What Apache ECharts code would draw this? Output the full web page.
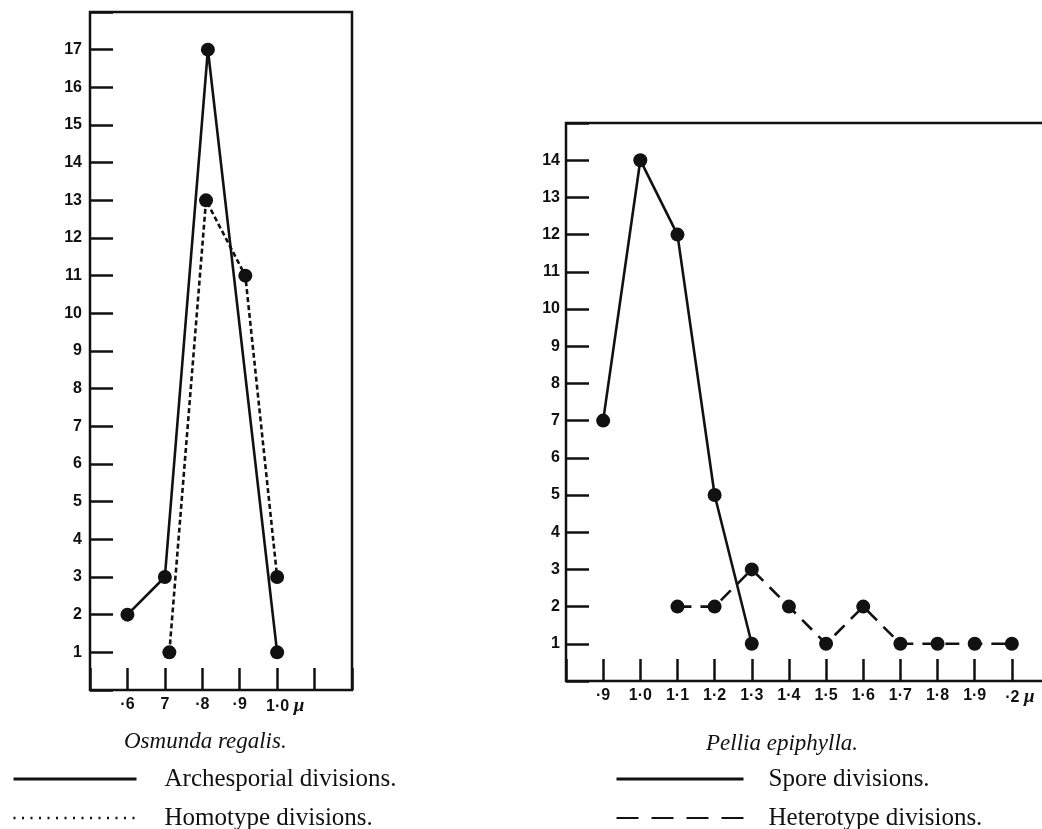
<!DOCTYPE html>
<html>
<head>
<meta charset="utf-8">
<title>Osmunda regalis / Pellia epiphylla</title>
<script src="https://cdn.jsdelivr.net/npm/echarts@6/dist/echarts.min.js"></script>
<style>
  html, body { margin: 0; padding: 0; background: #fff; }
  #main { width: 1042px; height: 829px; }
</style>
</head>
<body>
<div id="main"></div>
<script>
// Osmunda regalis (left)
var osmundaLabels = ['', '·6', '7', '·8', '·9', '1·0', '', ''];   // 0.5 .. 1.2
var archX = [0.6, 0.7, 0.815, 1.0];
var archY = [2, 3, 17, 1];
var homoX = [0.712, 0.81, 0.915, 1.0];
var homoY = [1, 13, 11, 3];

// Pellia epiphylla (right)
var pelliaLabels = ['', '·9', '1·0', '1·1', '1·2', '1·3', '1·4', '1·5', '1·6', '1·7', '1·8', '1·9', '·2', ''];   // 0.8 .. 2.1
var sporeX = [0.9, 1.0, 1.1, 1.2, 1.3];
var sporeY = [7, 14, 12, 5, 1];
var heteroX = [1.1, 1.2, 1.3, 1.4, 1.5, 1.6, 1.7, 1.8, 1.9, 2.0];
var heteroY = [2, 2, 3, 2, 1, 2, 1, 1, 1, 1];

var INK = '#111';
var SERIF = '"Liberation Serif", "DejaVu Serif", serif';
var SANS = '"Liberation Sans", "DejaVu Sans", sans-serif';

function pairs(xs, ys) {
  var out = [];
  for (var i = 0; i < xs.length; i++) out.push([xs[i], ys[i]]);
  return out;
}

// pick the label by step index, the last labelled tick gets the μ
function xFormatter(labels, min, muIndex) {
  return function (v) {
    var i = Math.round((v - min) / 0.1);
    var t = labels[i] || '';
    if (i === muIndex) return '{s|}' + t + ' {m|μ}';
    return t;
  };
}

function yFormatter(max) {
  return function (v) {
    return (v <= 0 || v >= max) ? '' : String(v);
  };
}

var tickLabel = { color: INK, fontFamily: SANS, fontWeight: 'bold', fontSize: 16 };
var muRich = {
  s: { width: 16 },
  m: { fontFamily: SERIF, fontStyle: 'italic', fontWeight: 'bold', fontSize: 19, color: INK }
};

function xAxis(grid, min, max, labels, muIndex) {
  return {
    type: 'value', gridIndex: grid, min: min, max: max, interval: 0.1,
    axisLine: { show: false },
    axisTick: { inside: true, length: 22, lineStyle: { color: INK, width: 2.5 } },
    axisLabel: Object.assign({ margin: 7, formatter: xFormatter(labels, min, muIndex), rich: muRich }, tickLabel),
    splitLine: { show: false }
  };
}

function yAxis(grid, max, margin) {
  return {
    type: 'value', gridIndex: grid, min: 0, max: max, interval: 1,
    axisLine: { show: false },
    axisTick: { inside: true, length: 23, lineStyle: { color: INK, width: 2.5 } },
    axisLabel: Object.assign({ margin: margin, formatter: yFormatter(max) }, tickLabel),
    splitLine: { show: false }
  };
}

function lineSeries(name, grid, xs, ys, dash) {
  return {
    name: name, type: 'line', xAxisIndex: grid, yAxisIndex: grid,
    data: pairs(xs, ys),
    symbol: 'circle', symbolSize: 14,
    itemStyle: { color: INK },
    lineStyle: { color: INK, width: 2.6, type: dash || 'solid' },
    silent: true
  };
}

var legendText = { color: INK, fontFamily: SERIF, fontSize: 25, lineHeight: 26 };
var captionText = { fontFamily: SERIF, fontStyle: 'italic', fontWeight: 'normal', fontSize: 23, color: INK };

var chart = echarts.init(document.getElementById('main'));
chart.setOption({
  animation: false,
  backgroundColor: '#fff',
  title: [
    { text: 'Osmunda regalis.', left: 124, top: 730, padding: 0, textStyle: captionText },
    { text: 'Pellia epiphylla.', left: 706, top: 732, padding: 0, textStyle: captionText }
  ],
  legend: [
    { left: 12, top: 766, height: 80, padding: 0, orient: 'vertical', itemWidth: 123, itemHeight: 3, itemGap: 13, selectedMode: false,
      textStyle: Object.assign({ padding: [0, 0, 0, 23] }, legendText),
      data: [
        { name: 'Archesporial divisions.', itemStyle: { opacity: 0 }, lineStyle: { width: 3, type: 'solid' } },
        { name: 'Homotype divisions.', itemStyle: { opacity: 0 }, lineStyle: { width: 2.5, type: [2, 6.5] } }
      ] },
    { left: 615, top: 766, height: 80, padding: 0, orient: 'vertical', itemWidth: 127, itemHeight: 3, itemGap: 13, selectedMode: false,
      textStyle: Object.assign({ padding: [0, 0, 0, 20] }, legendText),
      data: [
        { name: 'Spore divisions.', itemStyle: { opacity: 0 }, lineStyle: { width: 3, type: 'solid' } },
        { name: 'Heterotype divisions.', itemStyle: { opacity: 0 }, lineStyle: { width: 2, type: [22, 13] } }
      ] }
  ],
  grid: [
    { left: 90, top: 12, width: 262, height: 678, outerBoundsMode: 'none',
      show: true, borderColor: INK, borderWidth: 2.5 },
    { left: 566, top: 123, width: 483, height: 558, outerBoundsMode: 'none',
      show: true, borderColor: INK, borderWidth: 2.5 }
  ],
  xAxis: [
    xAxis(0, 0.5, 1.2, osmundaLabels, 5),
    xAxis(1, 0.8, 2.1, pelliaLabels, 12)
  ],
  yAxis: [
    yAxis(0, 18, 8),
    yAxis(1, 15, 6)
  ],
  series: [
    lineSeries('Archesporial divisions.', 0, archX, archY),
    lineSeries('Homotype divisions.', 0, homoX, homoY, [5, 3]),
    lineSeries('Spore divisions.', 1, sporeX, sporeY),
    lineSeries('Heterotype divisions.', 1, heteroX, heteroY, [14, 9])
  ]
});
</script>
</body>
</html>
